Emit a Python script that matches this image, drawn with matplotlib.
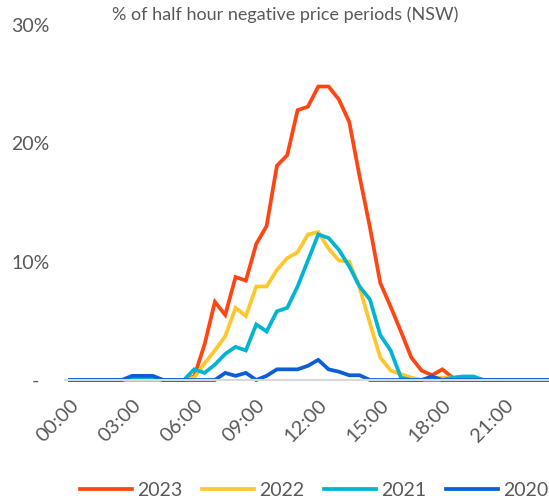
import matplotlib.pyplot as plt

periods = list(range(48))
tick_labels = ['00:00', '03:00', '06:00', '09:00', '12:00', '15:00', '18:00', '21:00']

y2023 = [0, 0, 0, 0, 0, 0, 0, 0, 0, 0, 0, 0,
         0.3, 3.0, 6.6, 5.5, 8.7, 8.4, 11.5, 13.0, 18.1, 19.0, 22.8, 23.1,
         24.8, 24.8, 23.7, 21.8, 17.2, 12.9, 8.2, 6.2, 4.1, 1.9, 0.8, 0.4,
         0.9, 0.2, 0, 0, 0, 0, 0, 0, 0, 0, 0, 0]
y2022 = [0, 0, 0, 0, 0, 0, 0, 0, 0, 0, 0, 0,
         0.2, 1.4, 2.5, 3.7, 6.1, 5.4, 7.9, 7.9, 9.3, 10.3, 10.8, 12.3,
         12.5, 11.1, 10.1, 10.0, 7.8, 4.8, 1.9, 0.8, 0.5, 0.2, 0, 0.2,
         0.2, 0.2, 0, 0, 0, 0, 0, 0, 0, 0, 0, 0]
y2021 = [0, 0, 0, 0, 0, 0, 0.2, 0.2, 0.2, 0, 0, 0,
         0.9, 0.6, 1.3, 2.2, 2.8, 2.5, 4.7, 4.1, 5.8, 6.1, 7.9, 10.1,
         12.3, 12.0, 11.0, 9.6, 7.9, 6.8, 3.8, 2.5, 0.2, 0, 0, 0,
         0, 0.2, 0.3, 0.3, 0, 0, 0, 0, 0, 0, 0, 0]
y2020 = [0, 0, 0, 0, 0, 0, 0.35, 0.35, 0.35, 0, 0, 0,
         0, 0, 0, 0.6, 0.35, 0.6, 0, 0.35, 0.9, 0.9, 0.9, 1.2,
         1.7, 0.9, 0.7, 0.4, 0.4, 0, 0, 0, 0, 0, 0, 0.3,
         0, 0, 0, 0, 0, 0, 0, 0, 0, 0, 0, 0]

series = [('2023', y2023, '#FF4612'), ('2022', y2022, '#FFC72C'),
          ('2021', y2021, '#00B4D2'), ('2020', y2020, '#0A5FD7')]

plt.rcParams['font.family'] = ['Lato', 'DejaVu Sans']
text_color = '#595959'

fig = plt.figure(figsize=(5.49, 5.0), dpi=100)
ax = fig.add_axes([65 / 549, 120 / 500, 491 / 549, 355 / 500])

# later years drawn first so 2020 ends up on top
for name, values, color in series:
    ax.plot(periods, values, color=color, lw=2.7, label=name, solid_joinstyle='miter',
            clip_on=False)

ax.set_xlim(-0.5, 47)
ax.set_ylim(0, 30)
ax.set_yticks([0, 10, 20, 30])
ax.set_yticklabels(['-  ', '10%', '20%', '30%'])
ax.set_xticks(range(0, 48, 6))
ax.set_xticklabels(tick_labels, rotation=45, ha='right', rotation_mode='anchor')
ax.tick_params(axis='both', length=0, labelsize=14, colors=text_color)
ax.tick_params(axis='x', labelsize=14.5, pad=12)
ax.tick_params(axis='y', pad=11)
for s in ['top', 'right', 'left']:
    ax.spines[s].set_visible(False)
ax.spines['bottom'].set_color('#D9D9D9')
ax.spines['bottom'].set_linewidth(1.5)

fig.text(285 / 549, 1 - 15 / 500, '% of half hour negative price periods (NSW)',
         ha='center', va='center', fontsize=13, color=text_color)

fig.legend(loc='center', bbox_to_anchor=(314 / 549, 1 - 490 / 500),
           ncol=4, frameon=False, fontsize=14, labelcolor=text_color,
           handlelength=2.7, handletextpad=0.25, columnspacing=1.0)

fig.savefig('out.png', dpi=100)
